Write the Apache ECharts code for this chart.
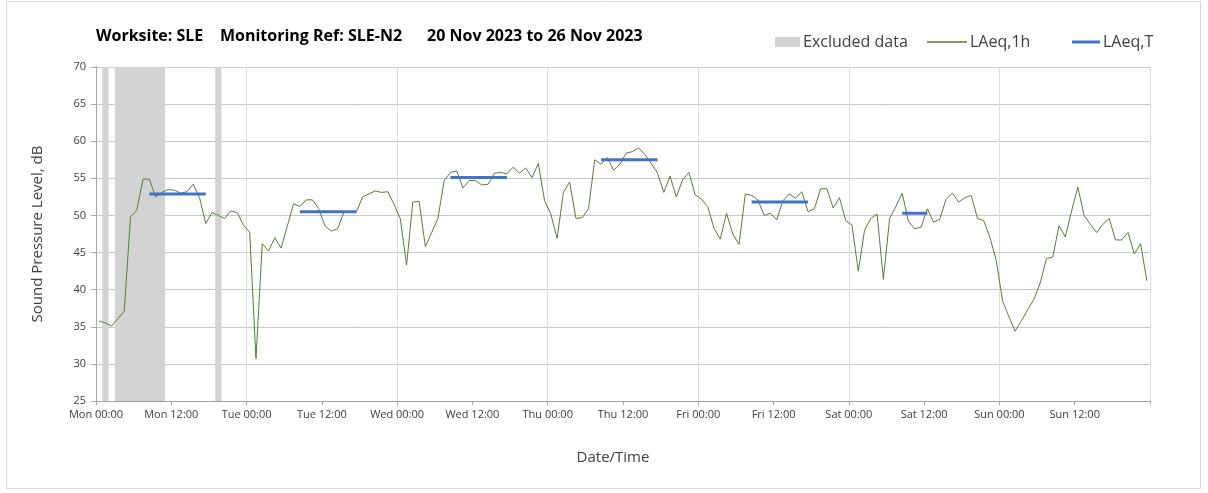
<!DOCTYPE html>
<html><head><meta charset="utf-8">
<script src="https://cdn.jsdelivr.net/npm/echarts@6/dist/echarts.min.js"></script>
<style>html,body{margin:0;padding:0;background:#fff}#c{width:1208px;height:493px}</style>
</head><body><div id="c"></div>
<script>
// x positions are hours from Mon 20 Nov 2023 00:00; hourly values plotted at mid-hour
const tickLabels = ['Mon 00:00','Mon 12:00','Tue 00:00','Tue 12:00','Wed 00:00','Wed 12:00','Thu 00:00','Thu 12:00','Fri 00:00','Fri 12:00','Sat 00:00','Sat 12:00','Sun 00:00','Sun 12:00',''];
const laeq1h = [
35.8,35.5,35.1,36.1,37.1,49.8,50.7,54.9,54.9,52.5,53.1,53.5,53.4,53.0,53.2,54.2,52.4,48.9,50.4,50.0,49.6,50.6,50.4,48.7,
47.7,30.7,46.2,45.2,47.0,45.6,48.6,51.6,51.2,52.1,52.1,50.9,48.6,47.9,48.2,50.4,50.5,50.5,52.5,52.9,53.3,53.1,53.2,51.5,
49.6,43.3,51.8,51.9,45.8,47.7,49.6,54.7,55.8,56.0,53.7,54.7,54.7,54.1,54.2,55.7,55.8,55.6,56.5,55.7,56.4,55.1,57.0,52.0,
50.2,46.9,53.1,54.5,49.6,49.7,50.9,57.5,56.9,57.8,56.1,56.9,58.4,58.6,59.1,58.2,57.0,55.7,53.1,55.3,52.5,54.8,55.8,52.8,
52.2,51.2,48.3,46.8,50.3,47.5,46.1,52.9,52.7,52.1,50.0,50.3,49.4,52.0,52.9,52.3,53.2,50.5,50.9,53.6,53.6,51.0,52.4,49.3,
48.7,42.5,48.0,49.6,50.2,41.4,49.6,51.2,53.0,49.2,48.2,48.4,50.9,49.1,49.5,52.2,53.0,51.8,52.4,52.7,49.6,49.3,47.0,43.9,
38.5,36.4,34.4,35.8,37.3,38.7,40.9,44.2,44.4,48.6,47.1,50.6,53.8,50.0,48.8,47.7,48.8,49.6,46.7,46.7,47.7,44.8,46.2,41.2
];
const laeqTStart = [8.5, 32.5, 56.5, 80.5, 104.5, 128.5];
const laeqTEnd   = [17.5, 41.5, 65.5, 89.5, 113.5, 132.5];
const laeqTValue = [52.9, 50.5, 55.1, 57.5, 51.8, 50.3];
const excludedStart = [1, 3, 19];
const excludedEnd   = [2, 11, 20];

const FONT = 'Open Sans';
const lineData = laeq1h.map((v, i) => [i + 0.5, v]);
const tSeries = laeqTValue.map((v, k) => ({
  name: 'LAeq,T', type: 'line', symbol: 'none', silent: true, z: 4,
  lineStyle: { color: '#4472c4', width: 3 }, itemStyle: { color: '#4472c4' },
  data: [[laeqTStart[k], v], [laeqTEnd[k], v]]
}));
const legText = { fontFamily: FONT, fontSize: 16, color: '#404040', padding: [0, 0, 0, -2] };

const chart = echarts.init(document.getElementById('c'), null, { renderer: 'canvas' });
chart.setOption({
  animation: false,
  textStyle: { fontFamily: FONT },
  graphic: [{ type: 'rect', shape: { x: 6.5, y: 1.5, width: 1194, height: 487 }, style: { fill: 'none', stroke: '#d9d9d9', lineWidth: 1 }, silent: true }],
  title: { text: 'Worksite: SLE    Monitoring Ref: SLE-N2      20 Nov 2023 to 26 Nov 2023', left: 96, top: 28, padding: 0,
    textStyle: { fontFamily: FONT, fontSize: 16, fontWeight: 'bold', color: '#000' } },
  legend: [
    { data: [{ name: 'Excluded data', icon: 'rect' }], left: 775, top: 34, padding: 0, itemWidth: 25, itemHeight: 10,
      textStyle: legText },
    { data: [{ name: 'LAeq,1h', icon: 'rect' }], left: 927, top: 34, padding: 0, itemWidth: 40, itemHeight: 1.3,
      textStyle: legText },
    { data: [{ name: 'LAeq,T', icon: 'rect' }], left: 1072, top: 34, padding: 0, itemWidth: 28, itemHeight: 3,
      textStyle: legText }
  ],
  grid: { left: 96, right: 58, top: 67, bottom: 92 },
  xAxis: [
    { type: 'value', min: 0, max: 168, interval: 12,
      axisLine: { show: true, lineStyle: { color: '#a6a6a6', width: 1 } },
      axisTick: { show: true, length: 4, lineStyle: { color: '#a6a6a6' } },
      axisLabel: { formatter: v => tickLabels[Math.round(v / 12)], fontSize: 11, color: '#404040', margin: 8, fontFamily: FONT },
      splitLine: { show: false },
      name: 'Date/Time', nameLocation: 'middle', nameGap: 49,
      nameTextStyle: { fontFamily: FONT, fontSize: 15, color: '#404040', padding: [0, 20, 0, 0] } },
    { type: 'value', min: 0, max: 168, interval: 24, position: 'bottom',
      axisLine: { show: false }, axisTick: { show: false }, axisLabel: { show: false },
      splitLine: { show: true, lineStyle: { color: '#dcdcdc', width: 1 } } }
  ],
  yAxis: [
    { type: 'value', min: 25, max: 70, interval: 5,
      axisLine: { show: true, lineStyle: { color: '#a6a6a6' } },
      axisTick: { show: true, length: 5, lineStyle: { color: '#a6a6a6' } },
      axisLabel: { fontSize: 11, color: '#404040', margin: 10, fontFamily: FONT },
      splitLine: { show: true, lineStyle: { color: '#c8c8c8' } },
      name: 'Sound Pressure Level, dB', nameLocation: 'middle', nameRotate: 90, nameGap: 51,
      nameTextStyle: { fontFamily: FONT, fontSize: 15, color: '#404040' } },
    { type: 'value', min: 25, max: 70, position: 'right',
      axisLine: { show: true, lineStyle: { color: '#a6a6a6' } },
      axisTick: { show: false }, axisLabel: { show: false }, splitLine: { show: false } }
  ],
  series: [
    { name: 'Excluded data', type: 'line', data: [], symbol: 'none', z: 1,
      itemStyle: { color: '#d3d3d3' }, lineStyle: { color: '#d3d3d3' },
      markArea: { silent: true, itemStyle: { color: '#d3d3d3' },
        data: excludedStart.map((s, k) => [{ xAxis: s }, { xAxis: excludedEnd[k] }]) } },
    { name: 'LAeq,1h', type: 'line', data: lineData, symbol: 'none', z: 3, silent: true,
      lineStyle: { color: '#5b7b3c', width: 1 }, itemStyle: { color: '#5b7b3c' } },
    ...tSeries
  ]
});
</script></body></html>
